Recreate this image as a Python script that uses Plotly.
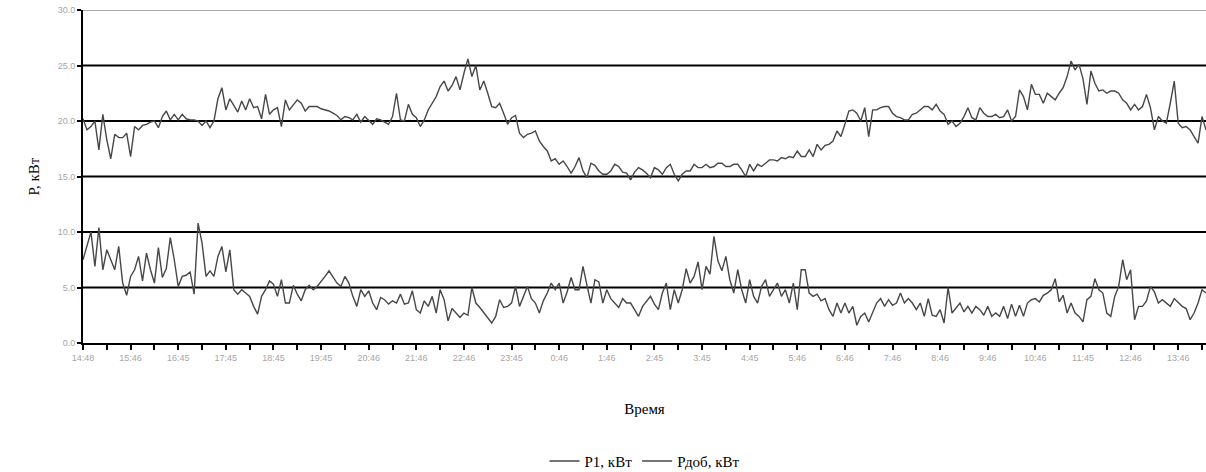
import plotly.graph_objects as go

# Sampling interval of the logged power readings, minutes
STEP_MIN = 5

# Hour labels shown under the time axis (one per hour from the start of logging)
tick_labels = ["14:48", "15:46", "16:45", "17:45", "18:45", "19:45", "20:46", "21:46",
               "22:46", "23:45", "0:46", "1:46", "2:45", "3:45", "4:45", "5:46",
               "6:46", "7:46", "8:46", "9:46", "10:46", "11:45", "12:46", "13:46"]

# Р1, кВт
p1 = [
    20.2, 19.2, 19.5, 20.0, 17.4, 20.6, 18.3, 16.6, 18.8, 18.5, 18.5, 18.9, 16.8, 19.5, 19.2, 19.6,
    19.7, 19.9, 20.0, 19.4, 20.4, 20.9, 20.1, 20.6, 20.1, 20.6, 20.2, 20.1, 20.1, 20.0, 19.6, 20.0,
    19.4, 20.0, 22.0, 23.0, 21.0, 22.0, 21.4, 20.8, 21.8, 21.0, 22.0, 21.2, 21.3, 20.2, 22.4,
    20.6, 21.0, 21.2, 19.5, 21.9, 21.0, 21.5, 21.9, 21.6, 20.9, 21.3, 21.3, 21.3, 21.1, 21.0, 20.9,
    20.7, 20.5, 20.1, 20.4, 20.3, 20.1, 20.6, 19.9, 20.4, 20.0, 19.7, 20.2, 20.1, 19.9, 19.7, 20.4,
    22.5, 20.1, 20.0, 21.5, 20.6, 20.3, 19.5, 20.1, 21.0, 21.6, 22.2, 23.1, 23.6, 22.7, 23.2,
    24.0, 22.8, 24.3, 25.6, 24.0, 25.0, 22.8, 23.6, 22.5, 21.3, 21.2, 21.6, 20.7, 19.7, 20.3, 20.5,
    18.9, 18.5, 18.8, 18.9, 19.1, 18.2, 17.7, 17.3, 16.4, 16.6, 16.1, 16.4, 15.9, 15.3, 15.9, 16.7,
    15.5, 14.9, 16.2, 16.0, 15.5, 15.2, 15.2, 15.5, 16.1, 15.9, 15.4, 15.3, 14.7, 15.4, 15.8,
    15.6, 15.3, 14.9, 15.8, 15.6, 15.2, 15.8, 16.1, 15.2, 14.6, 15.2, 15.5, 15.5, 16.1, 15.8, 15.8,
    16.1, 15.8, 15.9, 16.2, 16.2, 15.9, 15.9, 16.1, 16.1, 15.6, 15.0, 16.1, 15.5, 16.1, 15.9, 16.2,
    16.5, 16.5, 16.4, 16.7, 16.6, 16.8, 16.7, 17.3, 16.8, 16.8, 17.4, 16.8, 17.9, 17.4, 17.8,
    17.9, 18.2, 19.1, 18.6, 19.7, 20.9, 21.0, 20.7, 20.0, 21.2, 18.6, 21.0, 21.0, 21.2, 21.3, 21.3,
    20.7, 20.4, 20.3, 20.1, 20.1, 20.6, 20.7, 21.0, 21.3, 21.3, 21.0, 21.5, 20.9, 20.6, 19.7, 20.0,
    19.5, 19.8, 20.4, 21.2, 20.3, 20.1, 21.2, 20.7, 20.4, 20.4, 20.6, 20.3, 20.4, 21.0, 20.0,
    20.4, 22.8, 22.2, 21.0, 23.3, 22.4, 22.4, 21.6, 22.5, 22.2, 21.9, 22.5, 23.0, 24.0, 25.4, 24.6,
    25.1, 23.8, 21.5, 24.5, 23.4, 22.7, 22.8, 22.5, 22.7, 22.7, 22.5, 21.9, 21.6, 21.0, 21.5, 21.0,
    21.3, 22.4, 21.2, 19.2, 20.4, 20.0, 19.8, 21.6, 23.6, 19.8, 19.4, 19.5, 19.2, 18.6, 18.0, 20.4,
    19.2,
]

# Рдоб, кВт
p_dob = [
    7.5, 8.7, 10.0, 6.9, 10.4, 6.6, 8.4, 7.5, 6.6, 8.7, 5.4, 4.3, 6.0, 6.6, 7.8, 5.6,
    8.1, 6.6, 5.4, 8.6, 5.9, 6.7, 9.5, 7.5, 5.1, 6.0, 6.1, 6.4, 4.4, 10.8, 9.0, 6.0,
    6.5, 6.0, 7.8, 8.7, 6.4, 8.4, 4.8, 4.4, 4.8, 4.5, 4.2, 3.3, 2.6, 4.2, 4.8,
    5.6, 5.3, 4.2, 5.7, 3.6, 3.6, 5.2, 4.4, 3.8, 4.8, 5.2, 4.8, 5.1, 5.5, 6.0, 6.5,
    6.0, 5.4, 5.1, 6.0, 5.4, 4.2, 3.3, 4.8, 4.2, 4.7, 3.6, 3.0, 4.1, 3.9, 3.5, 3.8,
    3.6, 4.4, 3.5, 3.6, 4.7, 3.0, 2.7, 3.8, 3.3, 4.2, 2.7, 4.8, 3.9, 2.0, 3.1,
    2.7, 2.3, 2.7, 2.5, 5.0, 3.6, 3.2, 2.7, 2.3, 1.8, 2.4, 3.9, 3.2, 3.3, 3.6, 5.1,
    3.3, 4.2, 5.1, 4.0, 3.6, 2.7, 3.8, 4.5, 5.4, 4.8, 5.4, 3.6, 4.6, 5.9, 4.8, 4.8,
    6.9, 5.2, 3.6, 5.7, 5.5, 3.6, 4.8, 4.0, 3.6, 3.2, 4.0, 3.6, 3.6, 3.0, 2.4,
    3.3, 3.8, 4.2, 3.5, 3.0, 4.5, 5.4, 3.0, 4.8, 3.6, 4.8, 6.7, 5.4, 6.0, 7.3, 4.8,
    6.9, 6.2, 9.6, 7.4, 6.5, 7.8, 5.7, 4.5, 6.6, 4.8, 3.6, 5.7, 4.2, 3.6, 5.1, 5.7,
    4.2, 4.8, 5.4, 4.2, 4.8, 3.6, 5.4, 3.0, 6.6, 6.6, 4.5, 4.2, 4.4, 3.8, 4.0,
    3.0, 2.4, 3.6, 2.7, 3.6, 2.7, 3.3, 1.6, 2.4, 2.7, 1.9, 2.7, 3.6, 4.0, 3.3, 3.9,
    3.4, 3.6, 4.5, 3.6, 4.0, 3.6, 3.0, 3.6, 2.4, 4.0, 2.5, 2.4, 3.0, 1.8, 5.0, 2.7,
    3.1, 3.6, 2.8, 3.3, 2.7, 3.3, 3.0, 2.5, 3.3, 2.4, 2.7, 2.4, 3.3, 2.2, 3.5,
    2.4, 3.4, 2.4, 3.6, 3.9, 4.0, 3.7, 4.3, 4.5, 4.8, 5.8, 3.7, 4.3, 2.7, 3.6, 2.7,
    2.4, 1.9, 3.9, 4.2, 5.8, 4.8, 4.5, 2.7, 2.4, 4.2, 5.1, 7.5, 5.7, 6.6, 2.1, 3.3,
    3.3, 3.8, 5.1, 4.6, 3.6, 3.9, 3.6, 3.3, 4.0, 3.6, 3.3, 3.1, 2.1, 2.7, 3.6, 4.8,
    4.5,
]

# Elapsed minutes since the first reading
minutes = [i * STEP_MIN for i in range(len(p1))]
tick_minutes = [60 * i for i in range(len(tick_labels))]

LINE_COLOR = "#474747"
TICK_FONT = dict(family="Liberation Sans, Arial, sans-serif", size=9, color="#a6a6a6")
TEXT_FONT = dict(family="Liberation Serif, Times New Roman, serif", size=15, color="black")

fig = go.Figure()
fig.add_trace(go.Scatter(x=minutes, y=p1, mode="lines", name="Р1, кВт",
                         line=dict(color=LINE_COLOR, width=1.4)))
fig.add_trace(go.Scatter(x=minutes, y=p_dob, mode="lines", name="Рдоб, кВт",
                         line=dict(color=LINE_COLOR, width=1.4)))

# Horizontal grid: heavy black lines, lighter top border
for level in (5, 10, 15, 20, 25):
    fig.add_shape(type="line", xref="paper", yref="y", x0=0, x1=1, y0=level, y1=level,
                  line=dict(color="black", width=2), layer="below")
fig.add_shape(type="line", xref="paper", yref="y", x0=0, x1=1, y0=30, y1=30,
              line=dict(color="#8c8c8c", width=1.5), layer="below")

fig.update_layout(
    width=1206, height=472,
    margin=dict(l=83, r=0, t=10, b=129, autoexpand=False),
    paper_bgcolor="white", plot_bgcolor="white",
    showlegend=True,
    legend=dict(orientation="h", x=0.5, xanchor="center", y=-0.355, yanchor="middle",
                font=TEXT_FONT, itemwidth=30, tracegroupgap=0),
    xaxis=dict(
        range=[0, 1415],
        tickvals=tick_minutes, ticktext=tick_labels,
        ticks="outside", ticklen=5, tickwidth=2, tickcolor="black",
        minor=dict(tick0=0, dtick=30, ticks="outside", ticklen=5, tickwidth=2,
                   tickcolor="black", showgrid=False),
        showline=True, linecolor="black", linewidth=2,
        showgrid=False, zeroline=False,
        tickfont=TICK_FONT,
        title=dict(text="Время", font=TEXT_FONT, standoff=42),
    ),
    yaxis=dict(
        range=[0, 30], dtick=5, tick0=0, tickformat=".1f",
        ticks="outside", ticklen=4, tickwidth=2, tickcolor="black",
        showline=True, linecolor="black", linewidth=2,
        showgrid=False, zeroline=False,
        tickfont=TICK_FONT,
        title=dict(text="Р, кВт", font=TEXT_FONT, standoff=14),
    ),
)

fig.write_html("out.html")
